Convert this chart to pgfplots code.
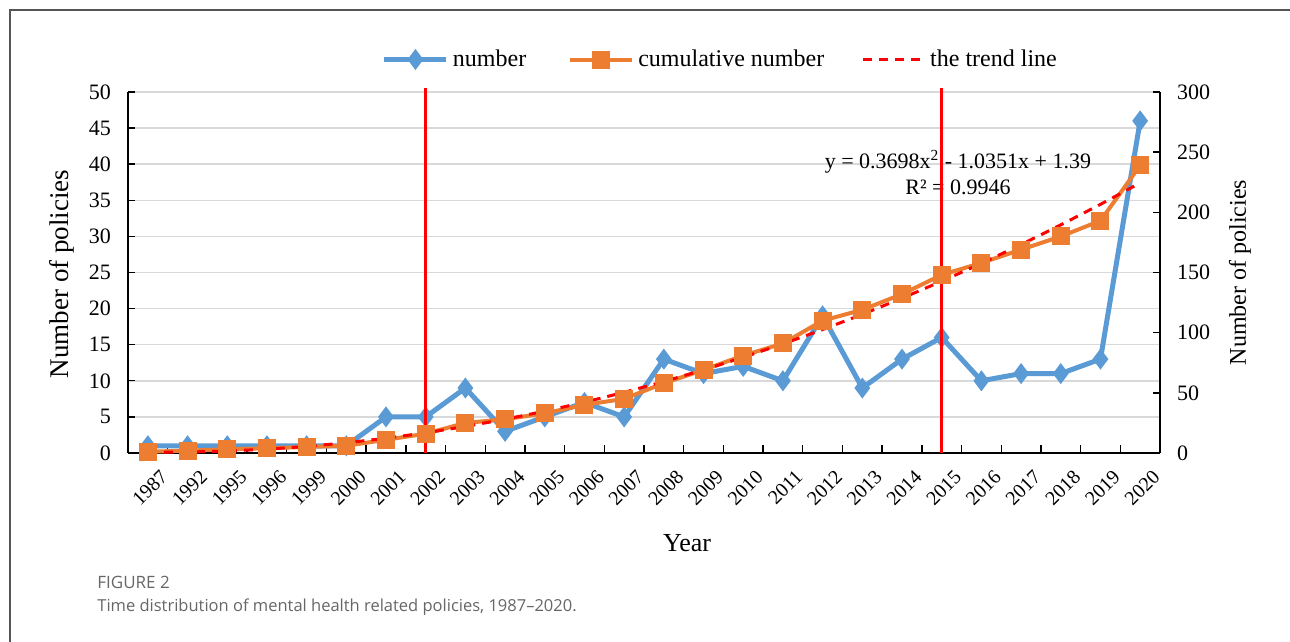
\documentclass[border=0pt]{standalone}
\usepackage{fontspec}
\setmainfont{Liberation Serif}
\newfontfamily\capfont{Open Sans}
\usepackage{pgfplots}
\usepackage{pgfplotstable}
\pgfplotsset{compat=1.18}

\definecolor{numblue}{HTML}{5B9BD5}
\definecolor{cumorange}{HTML}{ED7D31}
\definecolor{gridgray}{HTML}{D9D9D9}
\definecolor{framegray}{HTML}{555555}
\definecolor{capgray}{HTML}{666666}

% idx = category position, num = policies issued that year, cum = running total
\pgfplotstableread{
idx num cum
1   1   1
2   1   2
3   1   3
4   1   4
5   1   5
6   1   6
7   5   11
8   5   16
9   9   25
10  3   28
11  5   33
12  7   40
13  5   45
14  13  58
15  11  69
16  12  81
17  10  91
18  19  110
19  9   119
20  13  132
21  16  148
22  10  158
23  11  169
24  11  180
25  13  193
26  46  239
}\policies

% fitted quadratic trend of the running total, y = 0.3698x^2 - 1.0351x + 1.39
\pgfplotstableread{
idx trend
1   0.725
2   0.799
3   1.613
4   3.166
5   5.460
6   8.492
7   12.265
8   16.776
9   22.028
10  28.019
11  34.750
12  42.220
13  50.430
14  59.379
15  69.069
16  79.497
17  90.666
18  102.573
19  115.221
20  128.608
21  142.735
22  157.601
23  173.207
24  189.552
25  206.638
26  224.462
}\trend

\pgfplotsset{
  common/.style={
    at={(64pt,94.5pt)}, anchor=south west,
    scale only axis, width=516pt, height=180.5pt,
    xmin=0.5, xmax=26.5,
    axis line style={black, line width=1pt},
    tick style={black, line width=0.7pt},
    major tick length=3.5pt,
    /pgf/number format/assume math mode=true,
    clip=false,
  },
  legend image code/.code={%
    \draw[mark repeat=2, mark phase=2, #1]
      plot coordinates {(0pt,0pt) (15.5pt,0pt) (31pt,0pt)};},
}

\begin{document}
\begin{tikzpicture}[x=1pt,y=1pt]
\path[use as bounding box] (0,0) rectangle (645,321);
\draw[framegray, line width=0.8pt] (5,0) -- (5,316) -- (645,316);

\node[anchor=west, inner sep=0pt, font=\capfont\fontsize{8.5}{10}\selectfont, text=capgray] at (48.5,30) {FIGURE 2};
\node[anchor=west, inner sep=0pt, font=\capfont\fontsize{8.25}{10}\selectfont, text=capgray] at (48.5,17.5)
  {Time distribution of mental health related policies, 1987–2020.};

% left axis: yearly number of policies
\begin{axis}[
  common,
  ymin=0, ymax=50,
  axis x line*=bottom, axis y line*=left,
  xtick={1,...,26},
  xticklabels={1987,1992,1995,1996,1999,2000,2001,2002,2003,2004,2005,2006,2007,
    2008,2009,2010,2011,2012,2013,2014,2015,2016,2017,2018,2019,2020},
  major x tick style={draw=none},
  minor xtick={0.5,1.5,...,26.5},
  minor tick length=4pt,
  x tick label style={rotate=45, anchor=east, yshift=-13pt, xshift=2pt,
    font=\fontsize{10}{12}\selectfont},
  ytick={0,5,...,50},
  y tick label style={font=\fontsize{11}{13}\selectfont, xshift=-5pt},
  ymajorgrids, grid style={gridgray, line width=0.75pt},
  xlabel={Year},
  xlabel style={at={(axis description cs:0.5417,-0.249)}, anchor=center,
    font=\fontsize{13}{15}\selectfont},
  ylabel={Number of policies},
  ylabel style={at={(axis description cs:-0.064,0.496)}, anchor=center,
    font=\fontsize{13.5}{16}\selectfont},
]
\addplot[numblue, line width=2.5pt, mark=diamond*, mark size=3.2pt, mark options={solid}]
  table[x=idx, y=num] {\policies};
\node[font=\fontsize{11}{13}\selectfont] at (axis cs:21.41,40.3)
  {y = 0.3698x\textsuperscript{2} - 1.0351x + 1.39};
\node[font=\fontsize{11}{13}\selectfont] at (axis cs:21.41,36.8) {R² = 0.9946};
\end{axis}

% right axis: cumulative number, trend line and period markers
\begin{axis}[
  common,
  ymin=0, ymax=300,
  axis x line=none, axis y line*=right,
  ytick={0,50,...,300},
  y tick label style={font=\fontsize{11}{13}\selectfont, xshift=5pt},
  ylabel={Number of policies},
  ylabel style={at={(axis description cs:1.0775,0.5)}, anchor=center,
    font=\fontsize{12}{14}\selectfont},
  legend columns=3,
  legend style={at={(0.575,1.09)}, anchor=center, draw=none, fill=none,
    font=\fontsize{12}{14}\selectfont,
    /tikz/column 2/.style={column sep=19pt},
    /tikz/column 4/.style={column sep=16.5pt}},
]
\addlegendimage{numblue, line width=2.5pt, mark=diamond*, mark size=3.2pt, mark options={solid}}
\addlegendentry{number}
\addplot[cumorange, line width=2pt, mark=square*, mark size=3.5pt, mark options={solid}]
  table[x=idx, y=cum] {\policies};
\addlegendentry{cumulative number}
\addplot[red, line width=1.5pt, dash pattern=on 4.5pt off 3.5pt]
  table[x=idx, y=trend] {\trend};
\addlegendentry{the trend line}
\addplot[red, line width=1.5pt, forget plot] coordinates {(8,0) (8,303.3)};
\addplot[red, line width=1.5pt, forget plot] coordinates {(21,0) (21,303.3)};
\end{axis}
\end{tikzpicture}
\end{document}
